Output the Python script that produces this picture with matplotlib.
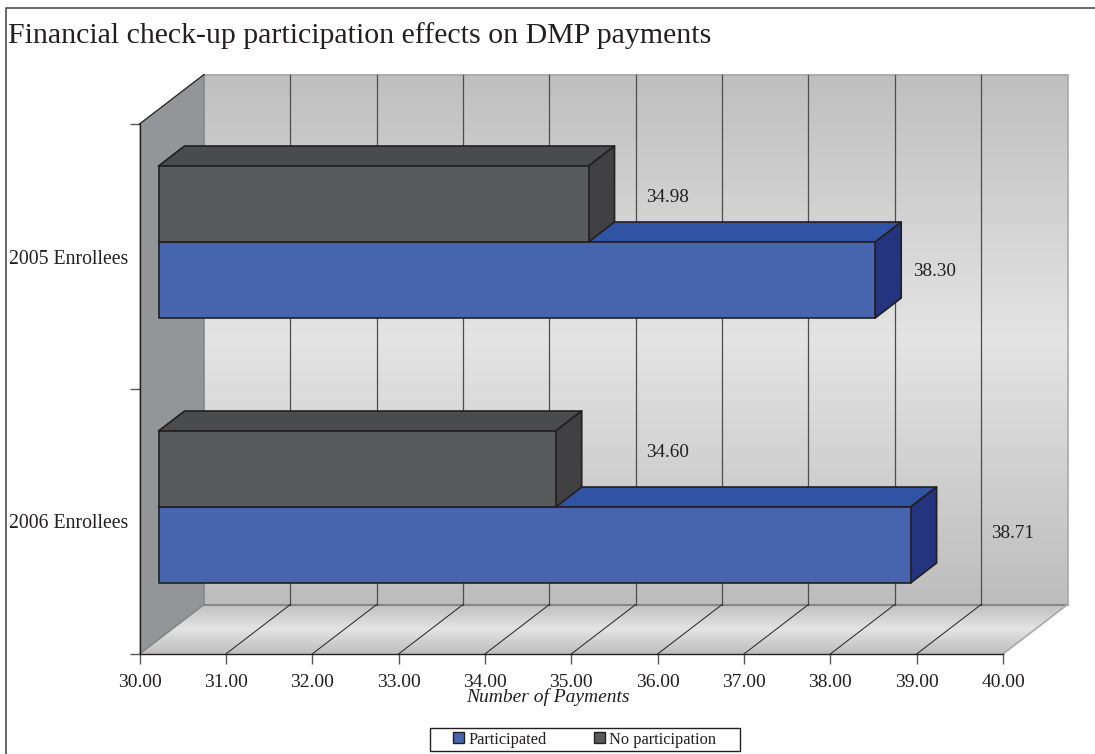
import numpy as np
import matplotlib
matplotlib.use('Agg')
from matplotlib import pyplot as plt
from matplotlib.colors import LinearSegmentedColormap
from matplotlib.lines import Line2D
from matplotlib.patches import Polygon, Rectangle

# Values
categories = ['2006 Enrollees', '2005 Enrollees']
participated = [38.71, 38.30]
no_participation = [34.60, 34.98]
xticks = [30, 31, 32, 33, 34, 35, 36, 37, 38, 39, 40]
series_labels = ['Participated', 'No participation']

title = 'Financial check-up participation effects on DMP payments'
xlabel = 'Number of Payments'

W, H = 1095, 754
INK = '#231f20'
EDGE_GRAY = '#85868a'

plt.rcParams['font.family'] = ['Liberation Serif', 'DejaVu Serif']
plt.rcParams['text.color'] = INK

fig = plt.figure(figsize=(W / 100, H / 100), dpi=100)
ax = fig.add_axes([139.5 / W, (H - 654) / H, 863.5 / W, 530 / H])
ax.patch.set_visible(False)

# Depth of the 3D box and of the bars, in data units (86.35 px per x, 265 px per y)
wall_dx, wall_dy = 64.5 / 86.35, 49.5 / 265
bar_ox, bar_oy = 19 / 86.35, 14.5 / 265
bar_dx, bar_dy = 26 / 86.35, 20 / 265
bar_h = 76 / 265

grey_cmap = LinearSegmentedColormap.from_list('wall', ['#bfbfbf', '#e4e4e4', '#bdbdbd'])
gradient = np.linspace(0, 1, 256).reshape(-1, 1)

# back wall
wall_img = ax.imshow(gradient, cmap=grey_cmap, aspect='auto', zorder=1, interpolation='bilinear',
                     extent=[30 + wall_dx, 40 + wall_dx, wall_dy, 2 + wall_dy])
wall_img.set_clip_on(False)

# floor, same gradient clipped to a parallelogram
floor_pts = [(30, 0), (40, 0), (40 + wall_dx, wall_dy), (30 + wall_dx, wall_dy)]
floor_img = ax.imshow(gradient, cmap=grey_cmap, aspect='auto', zorder=1, interpolation='bilinear',
                      extent=[30, 40 + wall_dx, 0, wall_dy])
floor_patch = Polygon(floor_pts, closed=True, facecolor='none', edgecolor='none', transform=ax.transData)
ax.add_patch(floor_patch)
floor_patch.set_clip_on(False)
# a clip box of None falls back to the axes box, which would cut the right corner
floor_img.set_clip_box(fig.bbox)
floor_img.set_clip_path(floor_patch)

# left wall
left_pts = [(30, 0), (30 + wall_dx, wall_dy), (30 + wall_dx, 2 + wall_dy), (30, 2)]
ax.add_patch(Polygon(left_pts, closed=True, facecolor='#939598', edgecolor='none', zorder=1.5, clip_on=False))

ax.set_xlim(30, 40)
ax.set_ylim(0, 2)

# edges of the box
ax.plot([30 + wall_dx, 40 + wall_dx], [2 + wall_dy, 2 + wall_dy], color='#a7a9ac', lw=1.2, zorder=2, clip_on=False)
ax.plot([30 + wall_dx, 40 + wall_dx], [wall_dy, wall_dy], color=EDGE_GRAY, lw=1.5, zorder=2, clip_on=False)
ax.plot([30 + wall_dx, 30 + wall_dx], [wall_dy, 2 + wall_dy], color=EDGE_GRAY, lw=1.2, zorder=2, clip_on=False)
ax.plot([40 + wall_dx, 40 + wall_dx], [wall_dy, 2 + wall_dy], color='#a7a9ac', lw=1.2, zorder=2, clip_on=False)
ax.plot([40, 40 + wall_dx], [0, wall_dy], color='#a7a9ac', lw=1.2, zorder=2, clip_on=False)
ax.plot([30, 30 + wall_dx], [0, wall_dy], color=EDGE_GRAY, lw=1.2, zorder=2, clip_on=False)
ax.plot([30, 30 + wall_dx], [2, 2 + wall_dy], color=INK, lw=0.9, zorder=2, clip_on=False)

# grid on wall and floor
for t in xticks[1:-1]:
    ax.plot([t + wall_dx, t + wall_dx], [wall_dy, 2 + wall_dy], color='#4d4d4f', lw=0.9, zorder=2, clip_on=False)
    ax.plot([t, t + wall_dx], [0, wall_dy], color=INK, lw=0.7, zorder=2, clip_on=False)


def box(value, y0, face, top, side, z):
    x0 = 30 + bar_ox
    x1 = value + bar_ox
    y1 = y0 + bar_h
    kw = dict(closed=True, edgecolor=INK, lw=1.2, joinstyle='round', clip_on=False, zorder=z)
    ax.add_patch(Polygon([(x0, y1), (x1, y1), (x1 + bar_dx, y1 + bar_dy), (x0 + bar_dx, y1 + bar_dy)],
                         facecolor=top, **kw))
    ax.add_patch(Polygon([(x1, y0), (x1 + bar_dx, y0 + bar_dy), (x1 + bar_dx, y1 + bar_dy), (x1, y1)],
                         facecolor=side, **kw))
    ax.add_patch(Polygon([(x0, y0), (x1, y0), (x1, y1), (x0, y1)], facecolor=face, **kw))


BLUE = ('#4665ae', '#3053a4', '#24347e')
DARK = ('#58595b', '#4a4b4d', '#414042')

for i in range(len(categories)):
    centre = i + 0.5 + bar_oy
    box(participated[i], centre - bar_h, *BLUE, 3 + i)
    box(no_participation[i], centre, *DARK, 3.5 + i)

# value labels sit at odd spots in the original, so each one has its own nudge (px)
nudge_blue = [(54, 12), (12, 9)]
nudge_dark = [(64, 17), (32, 7)]
for i in range(len(categories)):
    centre = i + 0.5 + bar_oy
    ax.annotate('%.2f' % participated[i], (participated[i] + bar_ox + bar_dx, centre - bar_h / 2),
                xytext=nudge_blue[i], textcoords='offset pixels', fontsize=13.8, va='center', ha='left',
                zorder=10, annotation_clip=False)
    ax.annotate('%.2f' % no_participation[i], (no_participation[i] + bar_ox + bar_dx, centre + bar_h / 2),
                xytext=nudge_dark[i], textcoords='offset pixels', fontsize=13.8, va='center', ha='left',
                zorder=10, annotation_clip=False)

# axes
for s in ['top', 'right']:
    ax.spines[s].set_visible(False)
for s in ['left', 'bottom']:
    ax.spines[s].set_color(INK)
    ax.spines[s].set_linewidth(1.0)
    ax.spines[s].set_zorder(2.5)

ax.set_xticks(xticks)
ax.set_xticklabels(['%.2f' % t for t in xticks], fontsize=14)
ax.tick_params(axis='x', length=7.2, width=1.0, color='#58595b', pad=7.5, labelcolor=INK)

ax.set_yticks([0, 1, 2])
ax.set_yticklabels([])
ax.set_yticks([0.5, 1.5], minor=True)
ax.set_yticklabels(categories, minor=True, fontsize=14.2)
ax.tick_params(axis='y', which='major', length=7.2, width=1.0, color='#58595b')
ax.tick_params(axis='y', which='minor', length=0, pad=8, labelcolor=INK)

fig.text(548 / W, 1 - 697 / H, xlabel, fontsize=14, style='italic', ha='center', va='center')
fig.text(8 / W, 1 - 35.5 / H, title, fontsize=21.5, ha='left', va='center')

# legend, frame drawn apart because the original has wide side margins
handles = [Rectangle((0, 0), 1, 1, facecolor=BLUE[0], edgecolor=INK, lw=1),
           Rectangle((0, 0), 1, 1, facecolor=DARK[0], edgecolor=INK, lw=1)]
fig.legend(handles, series_labels, ncol=2, loc='center', bbox_to_anchor=(584.5 / W, 1 - 739.5 / H),
           fontsize=11.8, frameon=False, handlelength=0.68, handleheight=0.68,
           handletextpad=0.25, columnspacing=2.9, borderpad=0, borderaxespad=0)
fig.add_artist(Rectangle((429.5 / W, 1 - 751 / H), 310 / W, 23 / H, transform=fig.transFigure,
                         facecolor='none', edgecolor=INK, lw=1.0))

# the picture only has a top and a left rule, no full frame
fig.add_artist(Line2D([5.5 / W, 5.5 / W, 1], [0, 1 - 8 / H, 1 - 8 / H], transform=fig.transFigure,
                      color='#4d4d4f', lw=1.2))

fig.savefig('out.png', dpi=100)
